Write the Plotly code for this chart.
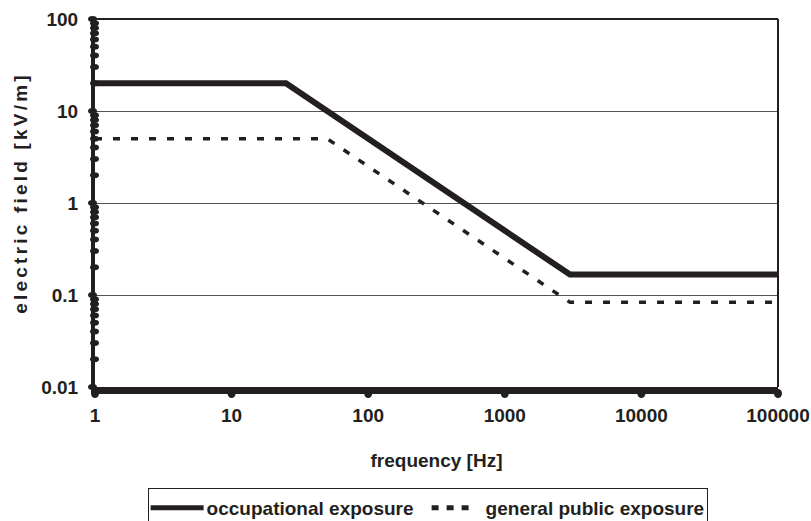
import math
import plotly.graph_objects as go

# ---- data ----
freq_occ = [1, 25, 3000, 100000]
field_occ = [20, 20, 0.1667, 0.1667]
freq_pub = [1, 50, 3000, 100000]
field_pub = [5, 5, 0.0833, 0.0833]

x_ticks = [1, 10, 100, 1000, 10000, 100000]
x_labels = ["1", "10", "100", "1000", "10000", "100000"]
y_ticks = [0.01, 0.1, 1, 10, 100]
y_labels = ["0.01", "0.1", "1", "10", "100"]

X_RANGE = [0, 5]     # log10 range of the x axis
Y_RANGE = [-2, 2]    # log10 range of the y axis

# decorative Excel-style minor-tick dots, derived from the log axis
y_dot_vals = [k * 10 ** d for d in range(-2, 2) for k in range(1, 10)] + [100]

INK = "#231f20"
FONT = "Liberation Sans, Arial, sans-serif"

fig = go.Figure()

fig.add_trace(go.Scatter(
    x=freq_occ, y=field_occ, mode="lines", name="occupational exposure",
    line=dict(color=INK, width=6), cliponaxis=False))
fig.add_trace(go.Scatter(
    x=freq_pub, y=field_pub, mode="lines", name="general public exposure",
    line=dict(color=INK, width=3.5, dash="7px,11px")))

shapes = [
    dict(type="line", xref="paper", yref="paper", x0=0, x1=1, y0=1, y1=1,
         line=dict(color=INK, width=2)),
    dict(type="line", xref="paper", yref="paper", x0=1, x1=1, y0=0, y1=1,
         line=dict(color=INK, width=2)),
]


def yfrac(v):
    return (math.log10(v) - Y_RANGE[0]) / (Y_RANGE[1] - Y_RANGE[0])


def xfrac(v):
    return (math.log10(v) - X_RANGE[0]) / (X_RANGE[1] - X_RANGE[0])


for v in y_dot_vals:
    major = v in y_ticks
    shapes.append(dict(
        type="circle", xref="paper", yref="paper",
        xsizemode="pixel", ysizemode="pixel",
        xanchor=0, yanchor=yfrac(v),
        x0=-7 if major else -5, x1=2 if major else 4, y0=-3, y1=3,
        fillcolor=INK, line=dict(width=0), layer="above"))
for v in x_ticks:
    shapes.append(dict(
        type="circle", xref="paper", yref="paper",
        xsizemode="pixel", ysizemode="pixel",
        xanchor=xfrac(v), yanchor=0,
        x0=-4, x1=4, y0=-11, y1=-2,
        fillcolor=INK, line=dict(width=0), layer="above"))

fig.update_layout(
    width=811, height=521,
    margin=dict(l=95, r=33, t=19, b=134, autoexpand=False),
    paper_bgcolor="white", plot_bgcolor="white",
    font=dict(family=FONT, size=19, color=INK, weight="bold"),
    showlegend=True,
    legend=dict(orientation="h", x=0.487, xanchor="center", y=-0.2745, yanchor="top",
                bordercolor=INK, borderwidth=1, font=dict(size=19, weight="bold"),
                itemwidth=48, tracegroupgap=0, itemsizing="constant",
                entrywidth=216, entrywidthmode="pixels"),
    xaxis=dict(type="log", range=X_RANGE, tickvals=x_ticks, ticktext=x_labels,
               showgrid=False, showline=True, linecolor=INK, linewidth=7,
               ticks="outside", ticklen=5, tickcolor="rgba(0,0,0,0)",
               zeroline=False, automargin=False,
               title=dict(text="frequency [Hz]", standoff=31, font=dict(size=19))),
    yaxis=dict(type="log", range=Y_RANGE, tickvals=y_ticks, ticktext=y_labels,
               showgrid=True, gridcolor="#555555", gridwidth=1,
               showline=True, linecolor=INK, linewidth=4,
               ticks="outside", ticklen=9, tickcolor="rgba(0,0,0,0)",
               zeroline=False, automargin=False),
    shapes=shapes,
    annotations=[dict(text="electric field [kV/m]", textangle=-90,
                      xref="paper", yref="paper", x=0, xshift=-75, xanchor="center",
                      y=0.527, yanchor="middle", showarrow=False,
                      font=dict(size=19, weight="bold"))],
)

post = """
document.documentElement.style.margin='0';
document.body.style.margin='0';
document.body.style.overflow='hidden';
var gd = document.getElementById('{plot_id}');
gd.querySelectorAll('.annotation-text').forEach(function(e){ e.setAttribute('letter-spacing','3.2px'); });
var paths = gd.querySelectorAll('.legendlines path');
if (paths.length > 0) paths[0].setAttribute('d','M2,0h53');
if (paths.length > 1) {
  paths[1].setAttribute('d','M4,0h37');
  paths[1].style.strokeDasharray = '7px,8px';
}
"""
fig.write_html("out.html", post_script=post, config={"displayModeBar": False})
